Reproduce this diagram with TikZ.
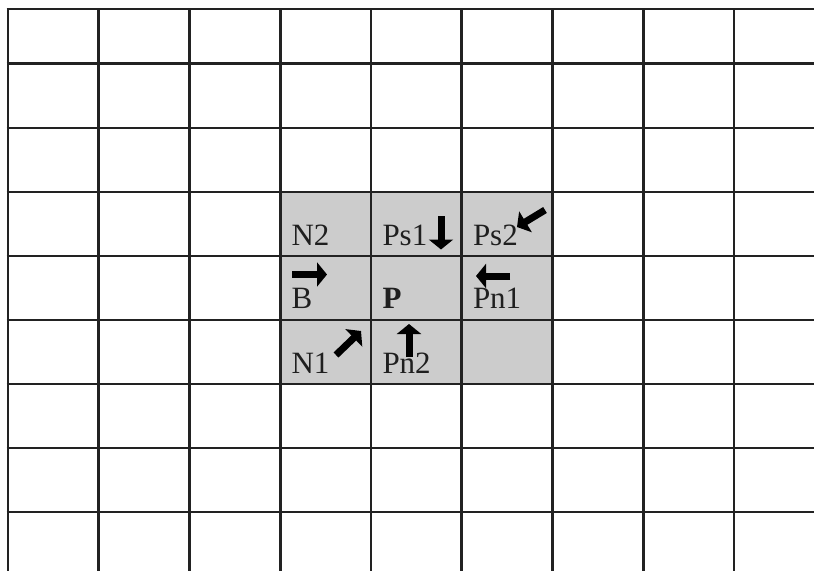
\documentclass[tikz,border=0pt]{standalone}
\usepackage{fontspec}
\setmainfont{Liberation Serif}
\usetikzlibrary{arrows.meta}
\definecolor{gridc}{HTML}{222222}
\definecolor{cellgray}{HTML}{CCCCCC}
\tikzset{
  gridline/.style={draw=gridc, line width=2.7pt},
  lbl/.style={anchor=base west, inner sep=0pt, font=\fontsize{31}{31}\selectfont, text=black!88},
  fatarrow/.style={draw=black, line width=7pt, -{Triangle[width=24pt,length=10pt]}},
}
\begin{document}
\begin{tikzpicture}[x=1pt,y=-1pt]
\useasboundingbox (0,0) rectangle (814,571);
\fill[white] (0,0) rectangle (814,571);
% gray block
\fill[cellgray] (280.25,192) rectangle (552.5,384);
% grid
\foreach \k in {0,...,8} {
  \draw[gridline] ({8+90.75*\k},9) -- ({8+90.75*\k},571);
}
\foreach \y in {9,63.5,128,192,256,320,384,448,512} {
  \draw[gridline] (6.7,\y) -- (814,\y);
}
% labels
\node[lbl] (n2)  at (291.3,245) {N2};
\node[lbl] (ps1) at (382.3,245) {Ps1};
\node[lbl] (ps2) at (472.8,245) {Ps2};
\node[lbl] (b)   at (291.5,308) {B};
\node[lbl] (p)   at (382.3,308) {\textbf{P}};
\node[lbl] (pn1) at (472.8,308) {Pn1};
\node[lbl] (n1)  at (291.3,373) {N1};
\node[lbl] (pn2) at (382.3,373) {Pn2};
% arrow end points
\coordinate (ps1a) at (441,216);  \coordinate (ps1b) at (441,249.5);
\coordinate (ba)   at (292,274.5);\coordinate (bb)   at (327,274.5);
\coordinate (pn1a) at (510,276);  \coordinate (pn1b) at (476,276);
\coordinate (pn2a) at (409,357);  \coordinate (pn2b) at (409,324);
\coordinate (n1a)  at (336,355);  \coordinate (n1b)  at (361,331);
\coordinate (ps2a) at (545,210);  \coordinate (ps2b) at (517,227);
\draw[fatarrow] (ps1a) -- (ps1b);
\draw[fatarrow] (ba) -- (bb);
\draw[fatarrow] (pn1a) -- (pn1b);
\draw[fatarrow] (pn2a) -- (pn2b);
\draw[fatarrow] (n1a) -- (n1b);
\draw[fatarrow] (ps2a) -- (ps2b);
\end{tikzpicture}
\end{document}
